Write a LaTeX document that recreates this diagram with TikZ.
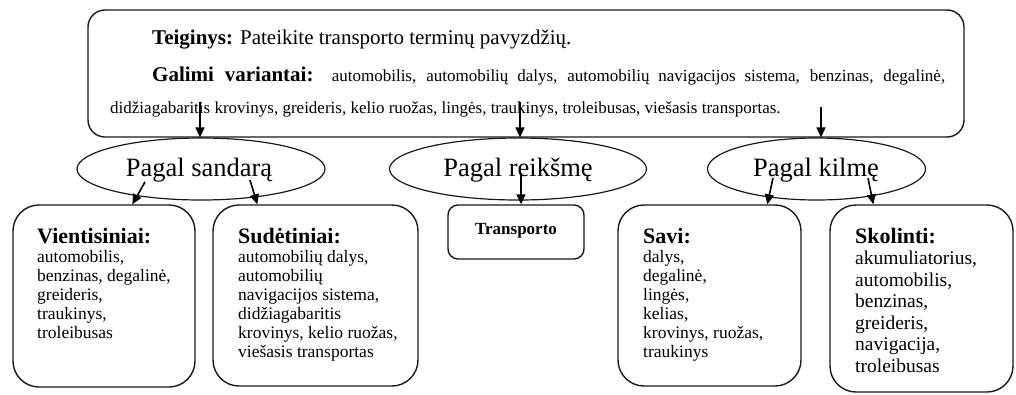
\documentclass[tikz,border=0pt]{standalone}
\usepackage{fontspec}
\setmainfont{Liberation Serif}
\usetikzlibrary{shapes.geometric,arrows.meta}
\newcommand\fTop{\normalfont\fontsize{21}{25}\selectfont}
\newcommand\fList{\normalfont\fontsize{17}{20}\selectfont}
\newcommand\fEll{\normalfont\fontsize{26.5}{30}\selectfont}
\newcommand\fHd{\normalfont\fontsize{22}{24}\selectfont\bfseries}
\newcommand\fCt{\normalfont\fontsize{17.5}{19}\selectfont}
\newcommand\fCtB{\normalfont\fontsize{19.5}{21.5}\selectfont}
\tikzset{
  panel/.style={draw=black!90, line width=1.4pt, inner sep=0pt, rounded corners=#1},
  oval/.style={draw=black!90, line width=1.2pt, ellipse, inner sep=0pt},
  txt/.style={inner sep=0pt, anchor=base west},
  lbl/.style={inner sep=0pt, anchor=base},
  arr/.style={draw=black, line width=1.6pt, -{Triangle[length=10pt,width=9pt]}}
}
\begin{document}
\begin{tikzpicture}[x=1pt,y=-1pt]
\useasboundingbox (0,0) rectangle (1016,394);
% top box
\node[panel=17pt, minimum width=876pt, minimum height=127pt] (top) at (526,73.5) {};
\node[txt] (t1) at (152,44) {\fTop\textbf{Teiginys:} Pateikite transporto terminų pavyzdžių.};
\node[txt] (t2) at (152,81) {\hbox to 793pt{\fTop\bfseries Galimi variantai: \fList automobilis, automobilių dalys, automobilių navigacijos sistema, benzinas, degalinė,}};
\node[txt] (t3) at (110,113) {\fList didžiagabaritis krovinys, greideris, kelio ruožas, lingės, traukinys, troleibusas, viešasis transportas.};
% ellipses
\node[oval, minimum width=248pt, minimum height=62pt] (e1) at (201,169) {};
\node[oval, minimum width=257pt, minimum height=62pt] (e2) at (518,169) {};
\node[oval, minimum width=218pt, minimum height=62pt] (e3) at (816.5,169) {};
\node[lbl] (l1) at (199,176) {\fEll Pagal sandarą};
\node[lbl] (l2) at (518,176) {\fEll Pagal reikšmę};
\node[lbl] (l3) at (816,176) {\fEll Pagal kilmę};
% lower boxes
\node[panel=26pt, minimum width=182pt, minimum height=182pt] (b1) at (104,296) {};
\node[panel=26pt, minimum width=205pt, minimum height=181pt] (b2) at (315.5,295.5) {};
\node[panel=10pt, minimum width=136pt, minimum height=54pt] (b3) at (516,232) {};
\node[panel=26pt, minimum width=183pt, minimum height=181pt] (b4) at (709.5,295.5) {};
\node[panel=26pt, minimum width=183pt, minimum height=187pt] (b5) at (921.5,298.5) {};
% box texts
\node[txt] (v1) at (37,243) {\vtop{\fHd\hbox{Vientisiniai:}\fCt\hbox{automobilis,}\hbox{benzinas, degalinė,}\hbox{greideris,}\hbox{traukinys,}\hbox{troleibusas}}};
\node[txt] (v2) at (238,243) {\vtop{\fHd\hbox{Sudėtiniai:}\fCt\hbox{automobilių dalys,}\hbox{automobilių}\hbox{navigacijos sistema,}\hbox{didžiagabaritis}\hbox{krovinys, kelio ruožas,}\hbox{viešasis transportas}}};
\node[lbl] (v3) at (516,234) {\normalfont\fontsize{17}{20}\selectfont\bfseries Transporto};
\node[txt] (v4) at (643,243) {\vtop{\fHd\hbox{Savi:}\fCt\hbox{dalys,}\hbox{degalinė,}\hbox{lingės,}\hbox{kelias,}\hbox{krovinys, ruožas,}\hbox{traukinys}}};
\node[txt] (v5) at (855,243) {\vtop{\fHd\hbox{Skolinti:}\fCtB\hbox{akumuliatorius,}\hbox{automobilis,}\hbox{benzinas,}\hbox{greideris,}\hbox{navigacija,}\hbox{troleibusas}}};
% arrows from top box
\coordinate (s1) at (200,102);
\coordinate (s2) at (520,102);
\coordinate (s3) at (821,107);
\draw[arr] (s1) -- (s1 |- e1.north);
\draw[arr] (s2) -- (s2 |- e2.north);
\draw[arr] (s3) -- (s3 |- e3.north);
% arrows from ellipses
\coordinate (p1) at (145,182);
\coordinate (p2) at (250,180);
\coordinate (p3) at (521,173);
\coordinate (p4) at (773,178);
\coordinate (p5) at (868,178);
\draw[arr] (p1) -- ([xshift=120pt]b1.north west);
\draw[arr] (p2) -- ([xshift=45pt]b2.north west);
\draw[arr] (p3) -- ([xshift=5pt]b3.north);
\draw[arr] (p4) -- ([xshift=150pt]b4.north west);
\draw[arr] (p5) -- ([xshift=44pt]b5.north west);
\end{tikzpicture}
\end{document}
